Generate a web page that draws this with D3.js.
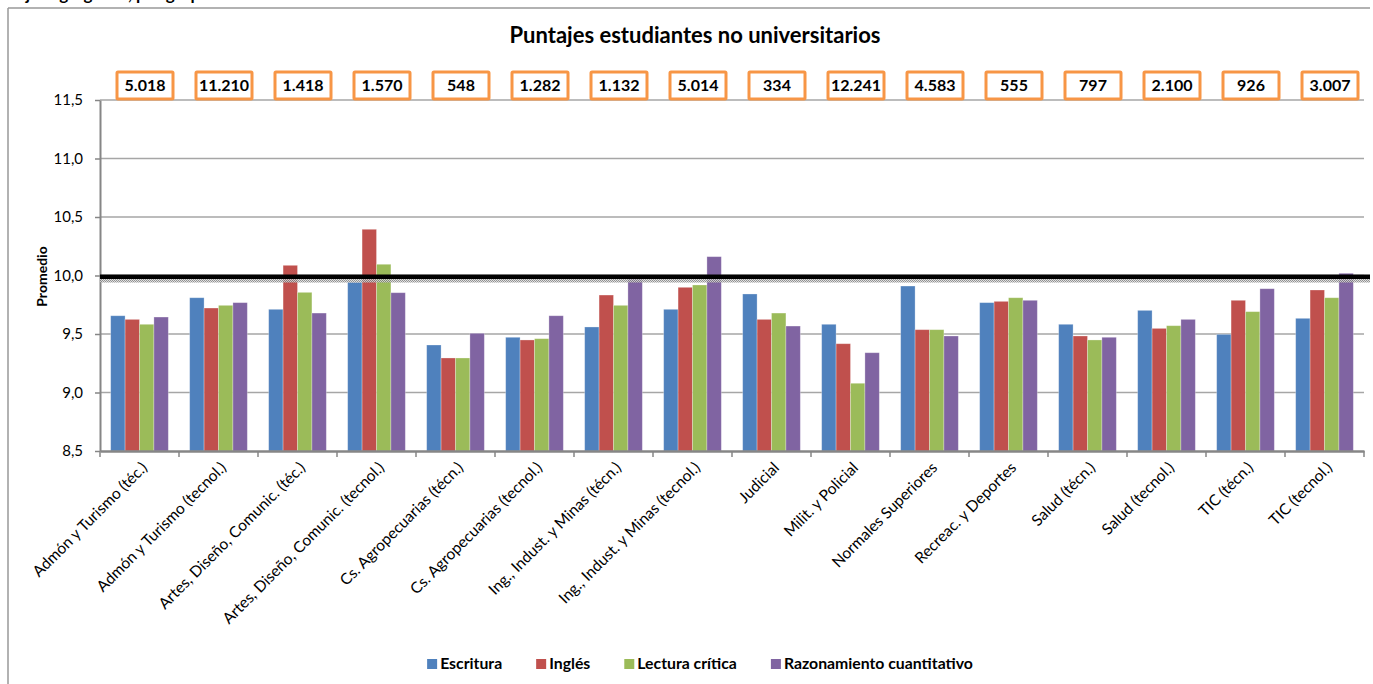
<!DOCTYPE html>
<html>
<head>
<meta charset="utf-8">
<script src="https://cdn.jsdelivr.net/npm/d3@7"></script>
<style>
  html, body { margin: 0; padding: 0; background: #fff; }
  svg { display: block; }
  text { font-family: Lato, "Open Sans", sans-serif; }
</style>
</head>
<body>
<svg id="chart" width="1373" height="684"></svg>
<script>
const categories = [
  "Admón y Turismo (téc.)",
  "Admón y Turismo  (tecnol.)",
  "Artes, Diseño, Comunic. (téc.)",
  "Artes, Diseño, Comunic. (tecnol.)",
  "Cs. Agropecuarias (técn.)",
  "Cs. Agropecuarias (tecnol.)",
  "Ing., Indust. y Minas (técn.)",
  "Ing., Indust. y Minas (tecnol.)",
  "Judicial",
  "Milit. y Policial",
  "Normales Superiores",
  "Recreac. y Deportes",
  "Salud (técn.)",
  "Salud (tecnol.)",
  "TIC (técn.)",
  "TIC (tecnol.)"
];
const seriesNames = ["Escritura", "Inglés", "Lectura crítica", "Razonamiento cuantitativo"];
const seriesColors = ["#4F81BD", "#C0504D", "#9BBB59", "#8064A2"];
const escritura    = [9.656, 9.810, 9.711, 9.942, 9.406, 9.472, 9.560, 9.711, 9.842, 9.583, 9.910, 9.768, 9.583, 9.702, 9.497, 9.634];
const ingles       = [9.625, 9.722, 10.087, 10.395, 9.295, 9.449, 9.833, 9.899, 9.625, 9.417, 9.537, 9.779, 9.483, 9.548, 9.788, 9.876];
const lectura      = [9.583, 9.745, 9.856, 10.096, 9.295, 9.460, 9.745, 9.919, 9.679, 9.079, 9.537, 9.810, 9.449, 9.571, 9.691, 9.810];
const razonamiento = [9.645, 9.768, 9.679, 9.853, 9.506, 9.656, 9.990, 10.161, 9.568, 9.340, 9.483, 9.788, 9.472, 9.625, 9.887, 10.019];
const counts = ["5.018", "11.210", "1.418", "1.570", "548", "1.282", "1.132", "5.014", "334", "12.241", "4.583", "555", "797", "2.100", "926", "3.007"];
const yTickValues = [8.5, 9.0, 9.5, 10.0, 10.5, 11.0, 11.5];
const yTickLabels = ["8,5", "9,0", "9,5", "10,0", "10,5", "11,0", "11,5"];
const referenceLine = 9.99;
const referenceBand = [9.94, 9.995];
const chartTitle = "Puntajes estudiantes no universitarios";
const yTitle = "Promedio";
const headerText = "Figura 2. Puntajes agregados, por grupos de referencia";

const seriesData = [escritura, ingles, lectura, razonamiento];

const svg = d3.select("#chart");
const plot = { left: 100, right: 1364, top: 100, bottom: 451 };

// Frame
svg.append("line").attr("x1", 8).attr("x2", 8).attr("y1", 8).attr("y2", 684)
  .attr("stroke", "#999").attr("stroke-width", 1.5);
svg.append("line").attr("x1", 8).attr("x2", 1370).attr("y1", 8).attr("y2", 8)
  .attr("stroke", "#999").attr("stroke-width", 1.5);

// Header text above the frame (cut off at the top in the reference)
const hdr = svg.append("text")
  .attr("y", 0)
  .attr("font-weight", "bold").attr("font-size", 17).attr("fill", "#000")
  .text(headerText);
const commaIdx = headerText.indexOf(",");
const preLen = hdr.node().getSubStringLength(0, commaIdx);
hdr.attr("x", 128 - preLen);

const x = d3.scaleBand().domain(categories).range([plot.left, plot.right]).paddingInner(0).paddingOuter(0);
const x1 = d3.scaleBand().domain(seriesNames).range([0, x.bandwidth()]).paddingInner(0).paddingOuter(0.74);
const y = d3.scaleLinear().domain([8.5, 11.5]).range([plot.bottom, plot.top]);

// Gridlines
svg.append("g").selectAll("line").data(yTickValues.slice(1)).join("line")
  .attr("x1", plot.left).attr("x2", plot.right)
  .attr("y1", d => y(d)).attr("y2", d => y(d))
  .attr("stroke", "#A6A6A6").attr("stroke-width", 1.5);

// Y axis
const yAxis = d3.axisLeft(y).tickValues(yTickValues)
  .tickFormat((d, i) => yTickLabels[i]).tickSize(5).tickSizeOuter(0).tickPadding(12);
const gy = svg.append("g").attr("transform", `translate(${plot.left},0)`).call(yAxis);
gy.select(".domain").attr("stroke", "#868686").attr("stroke-width", 2);
gy.selectAll(".tick line").attr("stroke", "#868686").attr("stroke-width", 1.5);
gy.selectAll(".tick text").attr("font-size", 15).attr("fill", "#000")
  .attr("font-family", "Lato, sans-serif");

// Y title
svg.append("text")
  .attr("transform", `translate(42,${(plot.top + plot.bottom) / 2 + 1}) rotate(-90)`)
  .attr("text-anchor", "middle").attr("dy", "0.35em")
  .attr("font-weight", "bold").attr("font-size", 14)
  .text(yTitle);

// Bars
const groups = svg.append("g").selectAll("g").data(categories).join("g")
  .attr("transform", d => `translate(${x(d)},0)`);
groups.selectAll("rect").data((d, i) => seriesNames.map((s, j) => ({ s, j, v: seriesData[j][i] })))
  .join("rect")
  .attr("x", d => x1(d.s))
  .attr("width", x1.bandwidth())
  .attr("y", d => y(d.v))
  .attr("height", d => y(8.5) - y(d.v))
  .attr("fill", d => seriesColors[d.j])
  .attr("stroke", "#ffffff").attr("stroke-opacity", 0.35).attr("stroke-width", 0.8);

// X axis
const xAxis = d3.axisBottom(x).tickSize(0).tickFormat("");
const gx = svg.append("g").attr("transform", `translate(0,${plot.bottom})`).call(xAxis);
gx.select(".domain").attr("stroke", "#868686").attr("stroke-width", 2.5);
const bounds = categories.map(c => x(c)).concat([plot.right]);
svg.append("g").selectAll("line").data(bounds).join("line")
  .attr("x1", d => d).attr("x2", d => d)
  .attr("y1", plot.bottom).attr("y2", plot.bottom + 6)
  .attr("stroke", "#868686").attr("stroke-width", 1.5);

// X labels
svg.append("g").selectAll("text").data(categories).join("text")
  .attr("transform", d => `translate(${x(d) + x.bandwidth() / 2 + 1},${plot.bottom + 10}) rotate(-45)`)
  .attr("text-anchor", "end").attr("font-size", 15.5).attr("dy", "0.7em")
  .attr("fill", "#000")
  .text(d => d);

// Reference band (dotted) and line
const defs = svg.append("defs");
const pat = defs.append("pattern").attr("id", "dots").attr("patternUnits", "userSpaceOnUse")
  .attr("width", 2).attr("height", 2);
pat.append("rect").attr("width", 2).attr("height", 2).attr("fill", "#d9d9d9");
pat.append("rect").attr("width", 1).attr("height", 1).attr("fill", "#7f7f7f");
pat.append("rect").attr("x", 1).attr("y", 1).attr("width", 1).attr("height", 1).attr("fill", "#7f7f7f");
svg.append("rect")
  .attr("x", plot.left).attr("width", 1370 - plot.left)
  .attr("y", y(referenceBand[1])).attr("height", y(referenceBand[0]) - y(referenceBand[1]))
  .attr("fill", "url(#dots)").attr("opacity", 0.85);
svg.append("line")
  .attr("x1", plot.left).attr("x2", 1370)
  .attr("y1", y(referenceLine)).attr("y2", y(referenceLine))
  .attr("stroke", "#000").attr("stroke-width", 4.5);

// Count boxes
const boxW = 56, boxH = 27, boxOffset = 5.5;
const boxes = svg.append("g").selectAll("g").data(categories).join("g")
  .attr("transform", d => `translate(${x(d) + x.bandwidth() / 2 + boxOffset},85.5)`);
boxes.append("rect")
  .attr("x", -boxW / 2).attr("y", -boxH / 2).attr("width", boxW).attr("height", boxH)
  .attr("fill", "#fff").attr("stroke", "#F79646").attr("stroke-width", 3).attr("rx", 1);
boxes.append("text")
  .attr("text-anchor", "middle").attr("dy", "0.36em")
  .attr("font-weight", "bold").attr("font-size", 16).attr("fill", "#000")
  .text((d, i) => counts[i]);

// Title
svg.append("text")
  .attr("x", 695).attr("y", 43)
  .attr("text-anchor", "middle").attr("font-weight", "bold").attr("font-size", 22)
  .text(chartTitle);

// Legend
const legend = svg.append("g");
let lx = 0;
const legendGap = 34;
seriesNames.forEach((s, i) => {
  const g = legend.append("g").attr("transform", `translate(${lx},0)`);
  g.append("rect").attr("x", 0).attr("y", -10).attr("width", 10).attr("height", 10).attr("fill", seriesColors[i]);
  const t = g.append("text").attr("x", 13).attr("y", 0).attr("font-weight", "bold").attr("font-size", 15.8).text(s);
  lx += 13 + t.node().getComputedTextLength() + legendGap;
});
const legendW = lx - legendGap;
legend.attr("transform", `translate(${700 - legendW / 2},669)`);
</script>
</body>
</html>
